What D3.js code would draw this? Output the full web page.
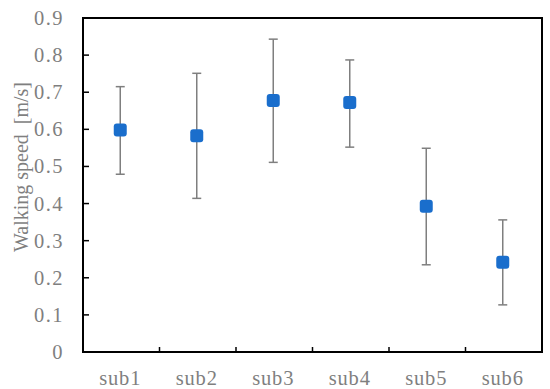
<!DOCTYPE html>
<html>
<head>
<meta charset="utf-8">
<script src="https://cdn.jsdelivr.net/npm/d3@7"></script>
<style>
  html, body { margin: 0; padding: 0; background: #fff; }
</style>
</head>
<body>
<svg id="chart" width="550" height="389"></svg>
<script>
const categories = ["sub1", "sub2", "sub3", "sub4", "sub5", "sub6"];
const meanSpeed = [0.598, 0.583, 0.678, 0.672, 0.393, 0.242];
const upperErr = [0.117, 0.168, 0.165, 0.115, 0.156, 0.114];
const lowerErr = [0.119, 0.169, 0.167, 0.120, 0.158, 0.115];
const yTicks = [0, 0.1, 0.2, 0.3, 0.4, 0.5, 0.6, 0.7, 0.8, 0.9];

const FONT = "'Liberation Serif', 'Times New Roman', Times, serif";
const TXT = "#7f7f7f";
const svg = d3.select("#chart");
const m = { left: 83, right: 8, top: 18, bottom: 37 };
const W = 550, H = 389;
const x = d3.scaleBand().domain(categories).range([m.left, W - m.right]);
const y = d3.scaleLinear().domain([0, 0.9]).range([H - m.bottom, m.top]);

// Y tick labels
svg.append("g").selectAll("text").data(yTicks).join("text")
  .attr("x", 64).attr("y", d => y(d) + 7)
  .attr("text-anchor", "end")
  .attr("font-family", FONT).attr("fill", TXT)
  .attr("font-size", 20.5).attr("letter-spacing", 1.5)
  .text(d => d === 0 ? "0" : d.toFixed(1));

// Y ticks (inward)
svg.append("g").selectAll("line").data(yTicks.slice(1, -1)).join("line")
  .attr("x1", m.left).attr("x2", m.left + 6)
  .attr("y1", d => y(d)).attr("y2", d => y(d))
  .attr("stroke", "#000").attr("stroke-width", 1.5);

// X ticks at band boundaries (inward)
svg.append("g").selectAll("line").data(categories.slice(1)).join("line")
  .attr("x1", d => x(d)).attr("x2", d => x(d))
  .attr("y1", y(0)).attr("y2", y(0) - 5)
  .attr("stroke", "#000").attr("stroke-width", 1.5);

// X labels
svg.append("g").selectAll("text").data(categories).join("text")
  .attr("x", d => x(d) + x.bandwidth() / 2 - 1).attr("y", 385)
  .attr("text-anchor", "middle")
  .attr("font-family", FONT).attr("fill", TXT)
  .attr("font-size", 20.5).attr("letter-spacing", 0.8)
  .text(d => d);

// Frame
svg.append("rect")
  .attr("x", m.left).attr("y", m.top)
  .attr("width", W - m.right - m.left).attr("height", y(0) - m.top)
  .attr("fill", "none").attr("stroke", "#000").attr("stroke-width", 2);

// Y axis title
svg.append("text")
  .attr("transform", `translate(28,167) rotate(-90)`)
  .attr("text-anchor", "middle")
  .attr("font-family", FONT).attr("fill", TXT)
  .attr("font-size", 20)
  .style("white-space", "pre")
  .text("Walking speed  [m/s]");

// Error bars
const data = categories.map((c, i) => ({ c, v: meanSpeed[i], hi: meanSpeed[i] + upperErr[i], lo: meanSpeed[i] - lowerErr[i] }));
const eb = svg.append("g").attr("stroke", "#7f7f7f").attr("stroke-width", 1.5);
const cx = d => x(d.c) + x.bandwidth() / 2 - 1;
eb.selectAll(".v").data(data).join("line")
  .attr("x1", cx).attr("x2", cx).attr("y1", d => y(d.hi)).attr("y2", d => y(d.lo));
eb.selectAll(".h").data(data).join("line")
  .attr("x1", d => cx(d) - 4.5).attr("x2", d => cx(d) + 4.5)
  .attr("y1", d => y(d.hi)).attr("y2", d => y(d.hi));
eb.selectAll(".l").data(data).join("line")
  .attr("x1", d => cx(d) - 4.5).attr("x2", d => cx(d) + 4.5)
  .attr("y1", d => y(d.lo)).attr("y2", d => y(d.lo));

// Markers
svg.append("g").selectAll("rect").data(data).join("rect")
  .attr("x", d => cx(d) - 6.5).attr("y", d => y(d.v) - 6.5)
  .attr("width", 13).attr("height", 13).attr("rx", 3)
  .attr("fill", "#1a6ecc");
</script>
</body>
</html>
